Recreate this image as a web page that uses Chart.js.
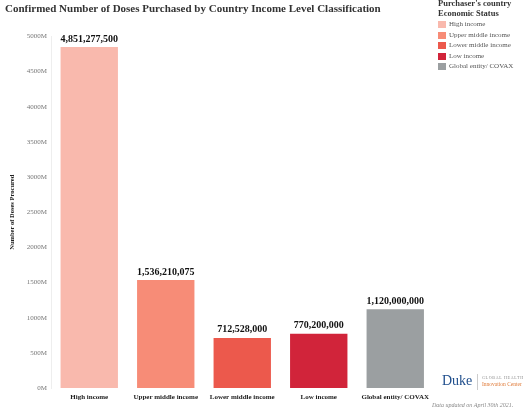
<!DOCTYPE html>
<html>
<head>
<meta charset="utf-8">
<script src="https://cdn.jsdelivr.net/npm/chart.js@4.4.0/dist/chart.umd.min.js"></script>
<style>
  html, body { margin: 0; padding: 0; background: #fff; }
  body { width: 530px; height: 414px; position: relative; overflow: hidden; font-family: "Liberation Serif", "DejaVu Serif", serif; }
  #wrap { position: absolute; left: 0; top: 0; width: 530px; height: 414px; }
  #title { position: absolute; left: 5px; top: 0px; font-size: 11px; font-weight: bold; color: #333; white-space: nowrap; line-height: 16px; }
  #legend { position: absolute; left: 438px; top: -2px; }
  #legend .lt { font-size: 8.5px; font-weight: bold; color: #333; line-height: 10px; white-space: nowrap; }
  #legend .item { position: relative; height: 10.5px; font-size: 7px; color: #555; white-space: nowrap; }
  #legend .sw { position: absolute; left: 0; top: 1px; width: 8px; height: 7px; }
  #legend .tx { position: absolute; left: 11px; top: 0px; line-height: 9px; }
  #duke { position: absolute; left: 442px; top: 373px; font-size: 14px; color: #1f4e8c; }
  #divider { position: absolute; left: 477px; top: 374px; width: 1px; height: 16px; background: #ccc; }
  #gh { position: absolute; left: 482px; top: 375px; font-size: 4px; letter-spacing: 0.7px; color: #888; white-space: nowrap; }
  #ic { position: absolute; left: 482px; top: 381px; font-size: 5.5px; color: #e07b39; white-space: nowrap; }
  #date { position: absolute; left: 432px; top: 402px; font-size: 6px; font-style: italic; color: #888; white-space: nowrap; }
</style>
</head>
<body>
<div id="wrap"><canvas id="c" width="530" height="414"></canvas></div>
<div id="title">Confirmed Number of Doses Purchased by Country Income Level Classification</div>
<div id="legend"></div>
<div id="duke">Duke</div>
<div id="divider"></div>
<div id="gh">GLOBAL HEALTH</div>
<div id="ic">Innovation Center</div>
<div id="date">Data updated on April 30th 2021.</div>
<script>
const categories = ["High income", "Upper middle income", "Lower middle income", "Low income", "Global entity/ COVAX"];
const doses = [4851277500, 1536210075, 712528000, 770200000, 1120000000];
const barColors = ["#f9b9ad", "#f78c77", "#ec594c", "#d1243a", "#9b9fa1"];
const yTicks = [0, 500, 1000, 1500, 2000, 2500, 3000, 3500, 4000, 4500, 5000]; // millions
const legendTitle = ["Purchaser's country", "Economic  Status"];

// HTML legend
const lg = document.getElementById('legend');
legendTitle.forEach(t => { const d = document.createElement('div'); d.className = 'lt'; d.textContent = t; lg.appendChild(d); });
const sp = document.createElement('div'); sp.style.height = '2px'; lg.appendChild(sp);
categories.forEach((c, i) => {
  const it = document.createElement('div'); it.className = 'item';
  const sw = document.createElement('div'); sw.className = 'sw'; sw.style.background = barColors[i];
  const tx = document.createElement('div'); tx.className = 'tx'; tx.textContent = c;
  it.appendChild(sw); it.appendChild(tx); lg.appendChild(it);
});

const valueLabels = {
  id: 'valueLabels',
  afterDatasetsDraw(chart) {
    const ctx = chart.ctx;
    const meta = chart.getDatasetMeta(0);
    ctx.save();
    ctx.font = 'bold 10px "Liberation Serif"';
    ctx.fillStyle = '#111';
    ctx.textAlign = 'center';
    ctx.textBaseline = 'bottom';
    meta.data.forEach((bar, i) => {
      ctx.fillText(doses[i].toLocaleString('en-US'), bar.x, bar.y - 3);
    });
    ctx.restore();
  }
};

new Chart(document.getElementById('c'), {
  type: 'bar',
  data: {
    labels: categories,
    datasets: [{
      data: doses.map(v => v / 1e6),
      backgroundColor: barColors,
      borderWidth: 0,
      categoryPercentage: 1.0,
      barPercentage: 0.75
    }]
  },
  options: {
    responsive: false,
    animation: false,
    devicePixelRatio: 1,
    layout: { padding: { top: 36.5, right: 96.5, bottom: 10, left: 0 } },
    plugins: { legend: { display: false }, tooltip: { enabled: false } },
    scales: {
      x: {
        grid: { display: false, drawTicks: false },
        border: { display: false },
        ticks: { color: '#222', font: { family: 'Liberation Serif', size: 7, weight: 'bold' }, padding: 5, maxRotation: 0, autoSkip: false },
        afterFit(s) { s.height = 16; }
      },
      y: {
        min: 0, max: 5000,
        afterBuildTicks(s) { s.ticks = yTicks.map(v => ({ value: v })); },
        grid: { display: false, drawTicks: false },
        border: { display: true, color: '#eeeeee', width: 1 },
        ticks: { color: '#777', font: { family: 'Liberation Serif', size: 7 }, padding: 4, callback: v => v + 'M' },
        title: { display: true, text: 'Number of Doses Procured', color: '#222', font: { family: 'Liberation Serif', size: 6.5, weight: 'bold' }, padding: { top: 8, bottom: 0 } },
        afterFit(s) { s.width = 51; }
      }
    }
  },
  plugins: [valueLabels]
});
</script>
</body>
</html>
